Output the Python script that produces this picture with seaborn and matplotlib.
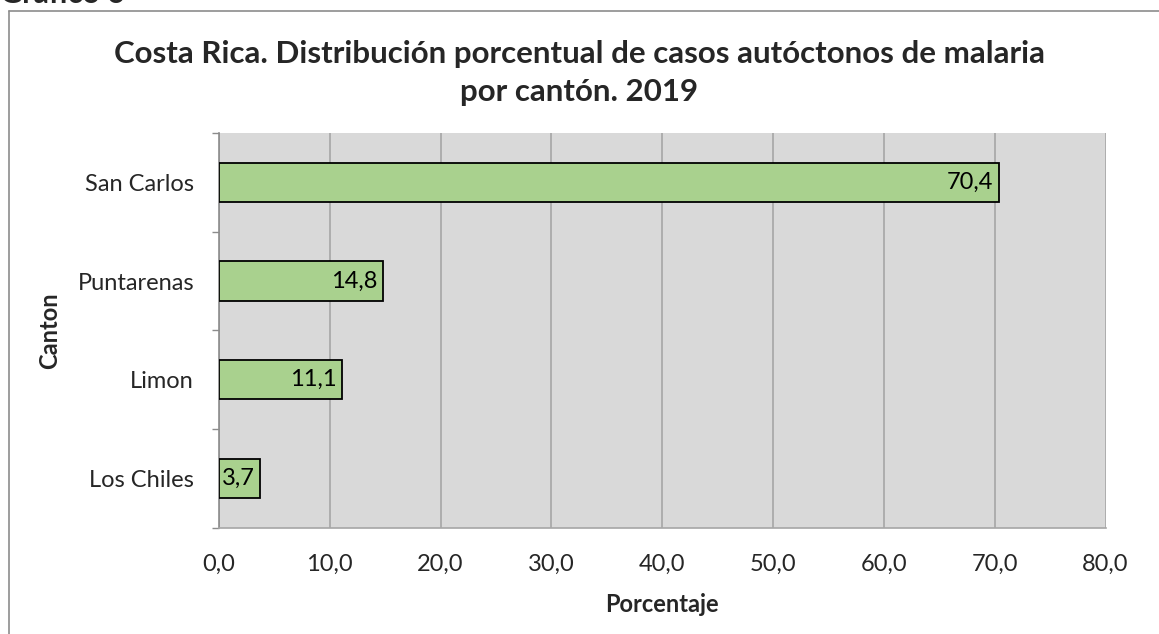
import matplotlib
matplotlib.use("Agg")
import matplotlib.pyplot as plt
import seaborn as sns
import pandas as pd
from matplotlib.lines import Line2D

cantones = ["San Carlos", "Puntarenas", "Limon", "Los Chiles"]
porcentajes = [70.4, 14.8, 11.1, 3.7]
x_ticks = [0, 10, 20, 30, 40, 50, 60, 70, 80]
x_tick_labels = ["0,0", "10,0", "20,0", "30,0", "40,0", "50,0", "60,0", "70,0", "80,0"]
title = "Costa Rica. Distribución porcentual de casos autóctonos de malaria\npor cantón. 2019"

sns.set_theme(style="white")
plt.rcParams["font.family"] = ["Lato", "DejaVu Sans"]

df = pd.DataFrame({"Canton": cantones, "Porcentaje": porcentajes})

fig = plt.figure(figsize=(11.59, 6.34), dpi=100)
ax = fig.add_axes([219 / 1159, (634 - 527.7) / 634, (1105.5 - 219) / 1159, (527.7 - 133) / 634])

sns.barplot(data=df, x="Porcentaje", y="Canton", orient="h", color="#A9D18E",
            edgecolor="black", linewidth=1.3, width=0.4, saturation=1, ax=ax, zorder=3)

ax.set_facecolor("#D9D9D9")
ax.set_xlim(0, 80)
ax.set_ylim(3.5, -0.5)
ax.set_xticks(x_ticks)
ax.set_xticklabels(x_tick_labels, fontsize=17)
ax.set_yticks([0, 1, 2, 3])
ax.set_yticklabels(cantones, fontsize=17)
ax.set_yticks([-0.5, 0.5, 1.5, 2.5, 3.5], minor=True)
ax.tick_params(axis="y", which="major", length=0, pad=18)
ax.tick_params(axis="y", which="minor", length=5, width=1, color="#8C8C8C", direction="out", left=True)
ax.tick_params(axis="x", length=0, pad=19)
ax.grid(axis="x", color="#A6A6A6", linewidth=1.2, zorder=0)
ax.set_axisbelow(True)
for side in ["top", "right"]:
    ax.spines[side].set_visible(False)
ax.spines["left"].set_color("#8C8C8C")
ax.spines["left"].set_linewidth(1.2)
ax.spines["bottom"].set_color("#A6A6A6")
ax.spines["bottom"].set_linewidth(1.2)

for i, v in enumerate(porcentajes):
    ax.annotate(f"{v:.1f}".replace(".", ","), xy=(v, i), xytext=(-4, 0),
                textcoords="offset points", ha="right", va="center", fontsize=17, color="black", zorder=5)

ax.set_xlabel("Porcentaje", fontsize=17, fontweight="bold", labelpad=13)
ax.set_ylabel("Canton", fontsize=17, fontweight="bold", labelpad=12)

fig.text(0.5, 1 - 73 / 634, title, ha="center", va="center", fontsize=22.5,
         fontweight="bold", linespacing=1.42)

fig.text(0.0, 1 - 3 / 634, "Gráfico 6", ha="left", va="baseline", fontsize=22, fontweight="bold")

# chart border (top and left visible)
fig.add_artist(Line2D([9 / 1159, 1.0], [1 - 11 / 634, 1 - 11 / 634], transform=fig.transFigure,
                      color="#8C8C8C", linewidth=1.2))
fig.add_artist(Line2D([9 / 1159, 9 / 1159], [0.0, 1 - 11 / 634], transform=fig.transFigure,
                      color="#8C8C8C", linewidth=1.2))

fig.savefig("out.png", dpi=100)
